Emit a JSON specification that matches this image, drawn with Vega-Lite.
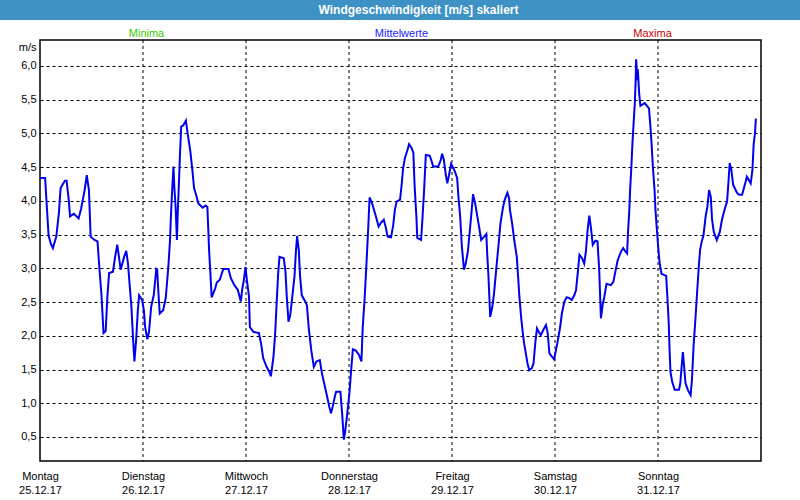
{
  "$schema": "https://vega.github.io/schema/vega-lite/v6.json",
  "padding": 0,
  "background": "white",
  "spacing": 20,
  "bounds": "flush",
  "center": true,
  "config": {"font": "Liberation Sans"},
  "vconcat": [
    {
      "width": 801,
      "height": 20,
      "view": {"fill": "#3d91c5", "stroke": null},
      "data": {"values": [{"titel": "Windgeschwindigkeit [m/s] skaliert"}]},
      "mark": {"type": "text", "color": "white", "fontWeight": "bold", "fontSize": 12, "dx": 18, "baseline": "middle", "font": "Liberation Sans"},
      "encoding": {"text": {"field": "titel", "type": "nominal"}}
    },
    {
      "width": 721,
      "height": 421,
      "view": {"fill": "white", "stroke": "black", "strokeWidth": 1.5},
      "layer": [
        {
          "data": {"values": [{"stunde": 24}, {"stunde": 48}, {"stunde": 72}, {"stunde": 96}, {"stunde": 120}, {"stunde": 144}]},
          "mark": {"type": "rule", "color": "black", "strokeDash": [3, 3], "strokeWidth": 1},
          "encoding": {
            "x": {
              "field": "stunde",
              "type": "quantitative",
              "scale": {"domain": [0, 168], "nice": false, "zero": false},
              "axis": {
                "orient": "top",
                "values": [24.7, 84.1, 142.6],
                "labelExpr": "datum.value < 50 ? 'Minima' : (datum.value < 100 ? 'Mittelwerte' : 'Maxima')",
                "labelColor": {"condition": [{"test": "datum.value < 50", "value": "#3cc800"}, {"test": "datum.value > 100", "value": "#c80000"}], "value": "#1a1aff"},
                "ticks": false,
                "tickSize": 0,
                "domain": false,
                "grid": false,
                "title": null,
                "labelPadding": 4,
                "labelBaseline": "alphabetic",
                "labelAlign": "center",
                "labelFontSize": 11,
                "labelFlush": false,
                "labelOverlap": false
              }
            }
          }
        },
        {
          "data": {"values": [
            {"stunde": 0, "ms": 4.34}, {"stunde": 1.2, "ms": 4.34}, {"stunde": 1.5, "ms": 4.01}, {"stunde": 2.0, "ms": 3.49}, {"stunde": 2.5, "ms": 3.37}, {"stunde": 3.0, "ms": 3.30}, {"stunde": 3.8, "ms": 3.47}, {"stunde": 4.4, "ms": 3.82}, {"stunde": 4.8, "ms": 4.19}, {"stunde": 5.8, "ms": 4.30}, {"stunde": 6.2, "ms": 4.30}, {"stunde": 6.7, "ms": 4.01}, {"stunde": 7.0, "ms": 3.77}, {"stunde": 7.9, "ms": 3.81}, {"stunde": 9.0, "ms": 3.74}, {"stunde": 9.6, "ms": 3.89}, {"stunde": 10.4, "ms": 4.16}, {"stunde": 10.9, "ms": 4.38}, {"stunde": 11.2, "ms": 4.25}, {"stunde": 11.4, "ms": 4.16}, {"stunde": 11.8, "ms": 3.47}, {"stunde": 12.7, "ms": 3.42}, {"stunde": 13.4, "ms": 3.40}, {"stunde": 13.9, "ms": 2.95}, {"stunde": 14.3, "ms": 2.63}, {"stunde": 14.8, "ms": 2.04}, {"stunde": 15.3, "ms": 2.07}, {"stunde": 15.7, "ms": 2.58}, {"stunde": 16.1, "ms": 2.93}, {"stunde": 17.0, "ms": 2.95}, {"stunde": 17.5, "ms": 3.17}, {"stunde": 18.0, "ms": 3.35}, {"stunde": 18.4, "ms": 3.17}, {"stunde": 18.8, "ms": 2.98}, {"stunde": 19.6, "ms": 3.17}, {"stunde": 20.1, "ms": 3.26}, {"stunde": 20.5, "ms": 3.07}, {"stunde": 21.3, "ms": 2.43}, {"stunde": 21.7, "ms": 1.94}, {"stunde": 22.0, "ms": 1.62}, {"stunde": 22.4, "ms": 1.94}, {"stunde": 22.8, "ms": 2.38}, {"stunde": 23.1, "ms": 2.60}, {"stunde": 23.8, "ms": 2.53}, {"stunde": 24.2, "ms": 2.38}, {"stunde": 24.5, "ms": 2.13}, {"stunde": 25.0, "ms": 1.95}, {"stunde": 25.4, "ms": 2.06}, {"stunde": 25.9, "ms": 2.43}, {"stunde": 26.5, "ms": 2.60}, {"stunde": 27.1, "ms": 2.99}, {"stunde": 27.3, "ms": 2.98}, {"stunde": 27.6, "ms": 2.63}, {"stunde": 27.9, "ms": 2.33}, {"stunde": 28.7, "ms": 2.38}, {"stunde": 29.3, "ms": 2.56}, {"stunde": 29.9, "ms": 3.02}, {"stunde": 30.3, "ms": 3.42}, {"stunde": 30.5, "ms": 3.77}, {"stunde": 30.8, "ms": 4.16}, {"stunde": 31.1, "ms": 4.51}, {"stunde": 31.3, "ms": 4.21}, {"stunde": 31.6, "ms": 3.91}, {"stunde": 31.9, "ms": 3.42}, {"stunde": 32.1, "ms": 3.82}, {"stunde": 32.4, "ms": 4.31}, {"stunde": 32.6, "ms": 4.66}, {"stunde": 32.9, "ms": 5.10}, {"stunde": 33.4, "ms": 5.12}, {"stunde": 34.0, "ms": 5.19}, {"stunde": 34.4, "ms": 5.00}, {"stunde": 35.0, "ms": 4.75}, {"stunde": 35.5, "ms": 4.46}, {"stunde": 35.9, "ms": 4.19}, {"stunde": 36.5, "ms": 4.06}, {"stunde": 36.9, "ms": 3.96}, {"stunde": 37.9, "ms": 3.90}, {"stunde": 38.6, "ms": 3.93}, {"stunde": 39.0, "ms": 3.91}, {"stunde": 39.2, "ms": 3.59}, {"stunde": 39.4, "ms": 3.27}, {"stunde": 39.7, "ms": 2.93}, {"stunde": 40.0, "ms": 2.57}, {"stunde": 40.8, "ms": 2.70}, {"stunde": 41.2, "ms": 2.79}, {"stunde": 41.9, "ms": 2.83}, {"stunde": 42.7, "ms": 2.99}, {"stunde": 43.9, "ms": 2.99}, {"stunde": 44.5, "ms": 2.85}, {"stunde": 45.3, "ms": 2.75}, {"stunde": 46.1, "ms": 2.68}, {"stunde": 46.8, "ms": 2.51}, {"stunde": 47.1, "ms": 2.68}, {"stunde": 47.5, "ms": 2.83}, {"stunde": 47.9, "ms": 3.02}, {"stunde": 48.2, "ms": 2.83}, {"stunde": 48.7, "ms": 2.58}, {"stunde": 48.9, "ms": 2.13}, {"stunde": 49.7, "ms": 2.06}, {"stunde": 51.0, "ms": 2.04}, {"stunde": 51.5, "ms": 1.89}, {"stunde": 52.0, "ms": 1.67}, {"stunde": 52.8, "ms": 1.54}, {"stunde": 53.4, "ms": 1.47}, {"stunde": 53.8, "ms": 1.40}, {"stunde": 54.4, "ms": 1.69}, {"stunde": 54.8, "ms": 2.04}, {"stunde": 55.1, "ms": 2.43}, {"stunde": 55.5, "ms": 2.93}, {"stunde": 55.8, "ms": 3.17}, {"stunde": 56.8, "ms": 3.15}, {"stunde": 57.2, "ms": 2.95}, {"stunde": 57.5, "ms": 2.58}, {"stunde": 57.9, "ms": 2.21}, {"stunde": 58.3, "ms": 2.30}, {"stunde": 58.7, "ms": 2.53}, {"stunde": 59.3, "ms": 2.88}, {"stunde": 59.6, "ms": 3.22}, {"stunde": 59.9, "ms": 3.48}, {"stunde": 60.3, "ms": 3.27}, {"stunde": 60.6, "ms": 2.88}, {"stunde": 61.0, "ms": 2.60}, {"stunde": 61.8, "ms": 2.51}, {"stunde": 62.2, "ms": 2.45}, {"stunde": 62.6, "ms": 2.13}, {"stunde": 63.2, "ms": 1.79}, {"stunde": 63.8, "ms": 1.54}, {"stunde": 64.4, "ms": 1.62}, {"stunde": 65.2, "ms": 1.64}, {"stunde": 65.7, "ms": 1.44}, {"stunde": 66.3, "ms": 1.27}, {"stunde": 66.9, "ms": 1.10}, {"stunde": 67.4, "ms": 0.95}, {"stunde": 67.8, "ms": 0.85}, {"stunde": 68.2, "ms": 0.95}, {"stunde": 68.7, "ms": 1.10}, {"stunde": 69.0, "ms": 1.17}, {"stunde": 70.0, "ms": 1.17}, {"stunde": 70.4, "ms": 0.85}, {"stunde": 70.8, "ms": 0.46}, {"stunde": 71.1, "ms": 0.58}, {"stunde": 71.6, "ms": 0.85}, {"stunde": 72.1, "ms": 1.15}, {"stunde": 72.5, "ms": 1.49}, {"stunde": 72.9, "ms": 1.80}, {"stunde": 73.6, "ms": 1.78}, {"stunde": 74.3, "ms": 1.72}, {"stunde": 74.9, "ms": 1.62}, {"stunde": 75.2, "ms": 2.13}, {"stunde": 75.6, "ms": 2.51}, {"stunde": 76.0, "ms": 2.98}, {"stunde": 76.4, "ms": 3.49}, {"stunde": 76.8, "ms": 4.05}, {"stunde": 77.4, "ms": 3.96}, {"stunde": 77.9, "ms": 3.85}, {"stunde": 78.4, "ms": 3.74}, {"stunde": 78.9, "ms": 3.62}, {"stunde": 79.5, "ms": 3.68}, {"stunde": 80.1, "ms": 3.72}, {"stunde": 80.6, "ms": 3.60}, {"stunde": 81.0, "ms": 3.47}, {"stunde": 81.8, "ms": 3.46}, {"stunde": 82.3, "ms": 3.64}, {"stunde": 82.7, "ms": 3.87}, {"stunde": 83.1, "ms": 3.99}, {"stunde": 83.9, "ms": 4.02}, {"stunde": 84.3, "ms": 4.26}, {"stunde": 84.6, "ms": 4.48}, {"stunde": 85.0, "ms": 4.63}, {"stunde": 85.6, "ms": 4.75}, {"stunde": 86.0, "ms": 4.84}, {"stunde": 86.6, "ms": 4.78}, {"stunde": 87.0, "ms": 4.71}, {"stunde": 87.3, "ms": 4.21}, {"stunde": 87.7, "ms": 3.77}, {"stunde": 87.9, "ms": 3.45}, {"stunde": 88.8, "ms": 3.42}, {"stunde": 89.1, "ms": 3.72}, {"stunde": 89.5, "ms": 4.16}, {"stunde": 89.9, "ms": 4.68}, {"stunde": 90.8, "ms": 4.67}, {"stunde": 91.3, "ms": 4.58}, {"stunde": 91.6, "ms": 4.51}, {"stunde": 92.8, "ms": 4.51}, {"stunde": 93.4, "ms": 4.61}, {"stunde": 93.7, "ms": 4.70}, {"stunde": 94.1, "ms": 4.61}, {"stunde": 94.5, "ms": 4.41}, {"stunde": 94.9, "ms": 4.26}, {"stunde": 95.3, "ms": 4.38}, {"stunde": 95.8, "ms": 4.55}, {"stunde": 96.2, "ms": 4.50}, {"stunde": 96.7, "ms": 4.43}, {"stunde": 97.2, "ms": 4.34}, {"stunde": 97.5, "ms": 4.06}, {"stunde": 97.9, "ms": 3.77}, {"stunde": 98.3, "ms": 3.32}, {"stunde": 98.8, "ms": 2.98}, {"stunde": 99.2, "ms": 3.07}, {"stunde": 99.7, "ms": 3.25}, {"stunde": 100.1, "ms": 3.52}, {"stunde": 100.6, "ms": 3.87}, {"stunde": 100.9, "ms": 4.10}, {"stunde": 101.4, "ms": 3.96}, {"stunde": 101.9, "ms": 3.77}, {"stunde": 102.3, "ms": 3.62}, {"stunde": 102.8, "ms": 3.42}, {"stunde": 103.5, "ms": 3.47}, {"stunde": 104.0, "ms": 3.51}, {"stunde": 104.2, "ms": 3.22}, {"stunde": 104.5, "ms": 2.88}, {"stunde": 104.7, "ms": 2.58}, {"stunde": 104.9, "ms": 2.28}, {"stunde": 105.4, "ms": 2.43}, {"stunde": 105.8, "ms": 2.63}, {"stunde": 106.3, "ms": 2.98}, {"stunde": 106.8, "ms": 3.32}, {"stunde": 107.3, "ms": 3.67}, {"stunde": 107.9, "ms": 3.91}, {"stunde": 108.3, "ms": 4.02}, {"stunde": 108.9, "ms": 4.12}, {"stunde": 109.3, "ms": 4.04}, {"stunde": 109.5, "ms": 3.87}, {"stunde": 110.0, "ms": 3.67}, {"stunde": 110.5, "ms": 3.42}, {"stunde": 111.1, "ms": 3.17}, {"stunde": 111.3, "ms": 2.98}, {"stunde": 111.7, "ms": 2.58}, {"stunde": 112.1, "ms": 2.28}, {"stunde": 112.5, "ms": 2.04}, {"stunde": 112.8, "ms": 1.89}, {"stunde": 113.2, "ms": 1.74}, {"stunde": 113.6, "ms": 1.59}, {"stunde": 114.0, "ms": 1.49}, {"stunde": 114.6, "ms": 1.52}, {"stunde": 115.0, "ms": 1.59}, {"stunde": 115.4, "ms": 1.89}, {"stunde": 115.8, "ms": 2.11}, {"stunde": 116.2, "ms": 2.06}, {"stunde": 116.7, "ms": 2.01}, {"stunde": 117.3, "ms": 2.09}, {"stunde": 117.9, "ms": 2.16}, {"stunde": 118.3, "ms": 2.04}, {"stunde": 118.7, "ms": 1.74}, {"stunde": 119.3, "ms": 1.69}, {"stunde": 119.8, "ms": 1.65}, {"stunde": 120.2, "ms": 1.78}, {"stunde": 120.6, "ms": 1.91}, {"stunde": 121.2, "ms": 2.13}, {"stunde": 121.6, "ms": 2.33}, {"stunde": 122.2, "ms": 2.51}, {"stunde": 122.7, "ms": 2.57}, {"stunde": 123.3, "ms": 2.56}, {"stunde": 123.9, "ms": 2.53}, {"stunde": 124.5, "ms": 2.60}, {"stunde": 124.9, "ms": 2.68}, {"stunde": 125.3, "ms": 2.93}, {"stunde": 125.7, "ms": 3.20}, {"stunde": 126.3, "ms": 3.15}, {"stunde": 126.8, "ms": 3.07}, {"stunde": 127.2, "ms": 3.25}, {"stunde": 127.6, "ms": 3.57}, {"stunde": 128.0, "ms": 3.78}, {"stunde": 128.4, "ms": 3.59}, {"stunde": 128.8, "ms": 3.35}, {"stunde": 129.4, "ms": 3.41}, {"stunde": 129.9, "ms": 3.40}, {"stunde": 130.3, "ms": 2.98}, {"stunde": 130.7, "ms": 2.26}, {"stunde": 131.1, "ms": 2.46}, {"stunde": 131.5, "ms": 2.58}, {"stunde": 132.0, "ms": 2.77}, {"stunde": 133.0, "ms": 2.75}, {"stunde": 133.6, "ms": 2.80}, {"stunde": 134.0, "ms": 2.93}, {"stunde": 134.6, "ms": 3.12}, {"stunde": 135.4, "ms": 3.25}, {"stunde": 135.9, "ms": 3.30}, {"stunde": 136.4, "ms": 3.25}, {"stunde": 136.8, "ms": 3.22}, {"stunde": 137.0, "ms": 3.52}, {"stunde": 137.3, "ms": 3.84}, {"stunde": 137.5, "ms": 4.16}, {"stunde": 137.8, "ms": 4.51}, {"stunde": 138.0, "ms": 4.80}, {"stunde": 138.3, "ms": 5.13}, {"stunde": 138.6, "ms": 5.45}, {"stunde": 138.8, "ms": 5.79}, {"stunde": 138.9, "ms": 6.10}, {"stunde": 139.2, "ms": 5.79}, {"stunde": 139.3, "ms": 5.95}, {"stunde": 139.6, "ms": 5.60}, {"stunde": 139.9, "ms": 5.41}, {"stunde": 140.9, "ms": 5.45}, {"stunde": 141.9, "ms": 5.37}, {"stunde": 142.2, "ms": 5.13}, {"stunde": 142.5, "ms": 4.85}, {"stunde": 142.8, "ms": 4.51}, {"stunde": 143.2, "ms": 4.16}, {"stunde": 143.4, "ms": 3.87}, {"stunde": 143.8, "ms": 3.52}, {"stunde": 144.1, "ms": 3.27}, {"stunde": 144.4, "ms": 3.07}, {"stunde": 144.8, "ms": 2.92}, {"stunde": 145.5, "ms": 2.90}, {"stunde": 145.9, "ms": 2.89}, {"stunde": 146.2, "ms": 2.56}, {"stunde": 146.5, "ms": 2.19}, {"stunde": 146.7, "ms": 1.79}, {"stunde": 146.9, "ms": 1.47}, {"stunde": 147.3, "ms": 1.32}, {"stunde": 147.9, "ms": 1.20}, {"stunde": 148.9, "ms": 1.20}, {"stunde": 149.2, "ms": 1.30}, {"stunde": 149.5, "ms": 1.54}, {"stunde": 149.8, "ms": 1.76}, {"stunde": 150.1, "ms": 1.54}, {"stunde": 150.4, "ms": 1.30}, {"stunde": 151.0, "ms": 1.19}, {"stunde": 151.6, "ms": 1.12}, {"stunde": 151.9, "ms": 1.34}, {"stunde": 152.3, "ms": 1.86}, {"stunde": 152.7, "ms": 2.23}, {"stunde": 153.1, "ms": 2.63}, {"stunde": 153.5, "ms": 3.02}, {"stunde": 153.8, "ms": 3.27}, {"stunde": 154.2, "ms": 3.40}, {"stunde": 154.6, "ms": 3.49}, {"stunde": 155.1, "ms": 3.77}, {"stunde": 155.5, "ms": 3.91}, {"stunde": 155.9, "ms": 4.16}, {"stunde": 156.3, "ms": 4.06}, {"stunde": 156.6, "ms": 3.72}, {"stunde": 157.0, "ms": 3.54}, {"stunde": 157.7, "ms": 3.42}, {"stunde": 158.4, "ms": 3.54}, {"stunde": 158.9, "ms": 3.72}, {"stunde": 159.5, "ms": 3.87}, {"stunde": 160.1, "ms": 3.99}, {"stunde": 160.4, "ms": 4.26}, {"stunde": 160.7, "ms": 4.56}, {"stunde": 161.1, "ms": 4.46}, {"stunde": 161.5, "ms": 4.24}, {"stunde": 162.4, "ms": 4.12}, {"stunde": 162.9, "ms": 4.09}, {"stunde": 163.6, "ms": 4.09}, {"stunde": 164.4, "ms": 4.28}, {"stunde": 164.7, "ms": 4.36}, {"stunde": 165.6, "ms": 4.26}, {"stunde": 166.0, "ms": 4.46}, {"stunde": 166.3, "ms": 4.85}, {"stunde": 166.6, "ms": 5.00}, {"stunde": 166.8, "ms": 5.22}
          ]},
          "mark": {"type": "line", "color": "#0000ee", "strokeWidth": 2},
          "encoding": {
            "x": {
              "field": "stunde",
              "type": "quantitative",
              "scale": {"domain": [0, 168], "nice": false, "zero": false},
              "axis": {
                "orient": "bottom",
                "values": [0, 24, 48, 72, 96, 120, 144],
                "labelExpr": "[['Montag','25.12.17'],['Dienstag','26.12.17'],['Mittwoch','27.12.17'],['Donnerstag','28.12.17'],['Freitag','29.12.17'],['Samstag','30.12.17'],['Sonntag','31.12.17']][round(datum.value / 24)]",
                "ticks": false,
                "tickSize": 0,
                "domain": false,
                "grid": false,
                "title": null,
                "labelPadding": 9.5,
                "labelBaseline": "top",
                "labelLineHeight": 14,
                "labelAlign": "center",
                "labelFontSize": 11,
                "labelColor": "black",
                "labelFlush": false,
                "labelOverlap": false
              }
            },
            "y": {
              "field": "ms",
              "type": "quantitative",
              "scale": {"domain": [0.144, 6.385], "nice": false, "zero": false},
              "axis": {
                "values": [0.5, 1.0, 1.5, 2.0, 2.5, 3.0, 3.5, 4.0, 4.5, 5.0, 5.5, 6.0],
                "labelExpr": "replace(format(datum.value, '.1f'), '.', ',')",
                "ticks": false,
                "tickSize": 0,
                "domain": false,
                "grid": true,
                "gridColor": "black",
                "gridDash": [3, 3],
                "gridWidth": 1,
                "gridOpacity": 1,
                "labelPadding": 4,
                "labelColor": "black",
                "labelFontSize": 11,
                "labelFlush": false,
                "labelOverlap": false,
                "title": "m/s",
                "titleAngle": 0,
                "titleAlign": "right",
                "titleBaseline": "alphabetic",
                "titleX": -4,
                "titleY": 10,
                "titleFontWeight": "normal",
                "titleFontSize": 11,
                "titleColor": "black"
              }
            }
          }
        }
      ],
      "resolve": {"axis": {"x": "independent"}}
    }
  ]
}
